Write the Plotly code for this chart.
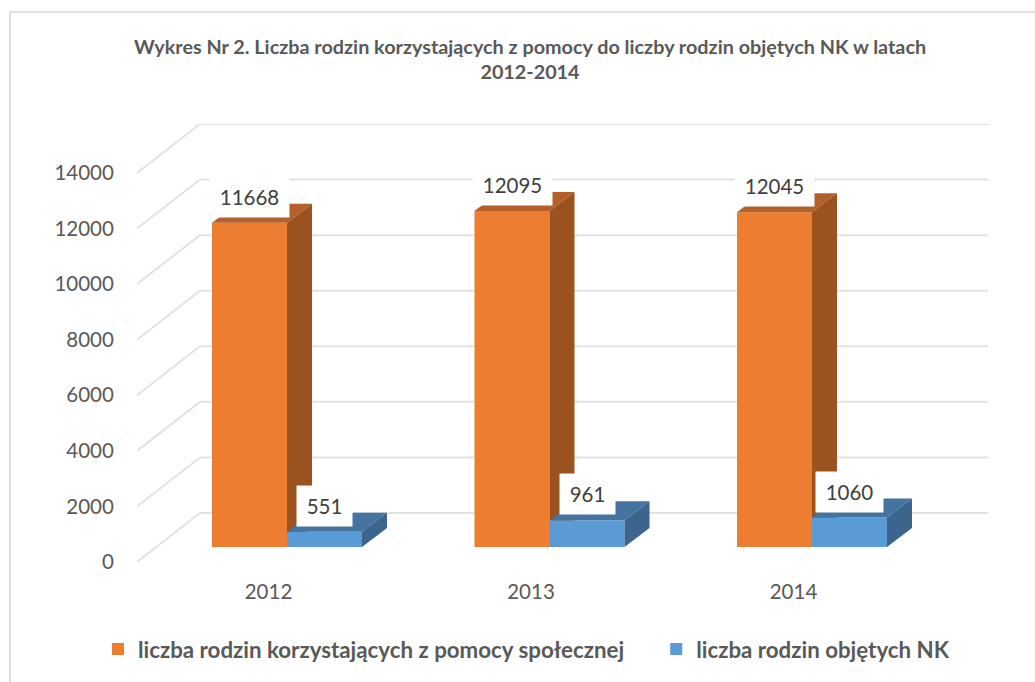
import plotly.graph_objects as go

# ---- data ----
years = ["2012", "2013", "2014"]
tick_values = [0, 2000, 4000, 6000, 8000, 10000, 12000, 14000]
pomoc = [11668, 12095, 12045]
nk = [551, 961, 1060]
name_pomoc = "liczba rodzin korzystających z pomocy społecznej"
name_nk = "liczba rodzin objętych NK"
title = ("Wykres Nr 2. Liczba rodzin korzystających z pomocy do liczby rodzin "
         "objętych NK w latach<br>2012-2014")

# ---- geometry of the 3D look (window is 1035x682) ----
W, H = 1035, 682
PX_X = 262.5            # pixels per category
PX_Y = 389 / 14000      # pixels per value unit
LEFT, RIGHT, TOP, BOTTOM = 137, 988, 124, 562
X0_PX, Y0_PX = 287, 547  # pixel of category 0 / value 0 on the front plane
BAR = 75 / PX_X
DX, DY = 25 / PX_X, 19 / PX_Y   # depth of a bar
WALL_X = (200 - X0_PX) / PX_X   # back wall, left end
WALL_DY = (Y0_PX - 513) / PX_Y  # back wall offset
FLOOR_DY = (BOTTOM - Y0_PX) / PX_Y  # offset of the axis plane below bar bases

x_range = [(LEFT - X0_PX) / PX_X, (RIGHT - X0_PX) / PX_X]
y_range = [-FLOOR_DY, (Y0_PX - TOP) / PX_Y]
idx = list(range(len(years)))

ORANGE, ORANGE_TOP, ORANGE_SIDE = "#ED7D31", "#B5602A", "#9A521E"
BLUE, BLUE_TOP, BLUE_SIDE = "#5B9BD5", "#44749F", "#3B658C"
GRID = "#E2E2E2"
TEXT = "#595959"
FONT = "Lato"

fig = go.Figure()


def add_series(values, name, left_offset, front, top, side, xa, ya):
    fig.add_trace(go.Bar(x=idx, y=values, name=name, width=BAR, offset=left_offset,
                         marker=dict(color=front, line=dict(width=0)),
                         xaxis=xa, yaxis=ya, hoverinfo="skip"))
    for i, v in zip(idx, values):
        l = i + left_offset
        r = l + BAR
        fig.add_trace(go.Scatter(
            x=[l, r, r + DX, l + DX, l], y=[v, v, v + DY, v + DY, v],
            mode="lines", fill="toself", fillcolor=top, line=dict(width=0),
            showlegend=False, hoverinfo="skip", xaxis=xa, yaxis=ya))
        fig.add_trace(go.Scatter(
            x=[r, r + DX, r + DX, r, r], y=[0, DY, v + DY, v, 0],
            mode="lines", fill="toself", fillcolor=side, line=dict(width=0),
            showlegend=False, hoverinfo="skip", xaxis=xa, yaxis=ya))


add_series(pomoc, name_pomoc + "\u00a0" * 5, -BAR, ORANGE, ORANGE_TOP, ORANGE_SIDE, "x", "y")
add_series(nk, name_nk, 0, BLUE, BLUE_TOP, BLUE_SIDE, "x2", "y2")

# gridlines: back wall and side wall, from the tick values
shapes = []
for t in tick_values:
    shapes.append(dict(type="line", xref="x", yref="y", layer="below",
                       x0=WALL_X, x1=x_range[1], y0=t + WALL_DY, y1=t + WALL_DY,
                       line=dict(color=GRID, width=2)))
    shapes.append(dict(type="line", xref="x", yref="y", layer="below",
                       x0=WALL_X, x1=x_range[0], y0=t + WALL_DY, y1=t - FLOOR_DY,
                       line=dict(color=GRID, width=2)))
# outer frame of the chart
shapes.append(dict(type="line", xref="paper", yref="paper", x0=10 / W, x1=10 / W,
                   y0=0, y1=1 - 12 / H, line=dict(color="#DEDEDE", width=2)))
shapes.append(dict(type="line", xref="paper", yref="paper", x0=10 / W, x1=1,
                   y0=1 - 12 / H, y1=1 - 12 / H, line=dict(color="#DEDEDE", width=2)))

# data labels: white boxes above the bars
annotations = []
for values, off in ((pomoc, -BAR / 2), (nk, BAR / 2)):
    for i, v in zip(idx, values):
        annotations.append(dict(
            x=i + off, y=v, xref="x", yref="y", yshift=26, text=str(v), showarrow=False,
            bgcolor="white", width=len(str(v)) * 12 + 17, height=38,
            font=dict(family=FONT, size=20.5, color="#404040")))

fig.update_layout(
    width=W, height=H, autosize=False,
    margin=dict(l=0, r=0, t=0, b=0),
    paper_bgcolor="white", plot_bgcolor="rgba(0,0,0,0)",
    barmode="overlay",
    shapes=shapes, annotations=annotations,
    title=dict(text=title, x=530 / W, xanchor="center", xref="container",
               y=1 - 53.5 / H, yanchor="top", yref="container",
               font=dict(family=FONT, size=19.8, color=TEXT, weight="bold")),
    xaxis=dict(domain=[LEFT / W, RIGHT / W], range=x_range, showgrid=False, zeroline=False,
               showline=False, automargin=False, tickmode="array",
               tickvals=[i - 18.5 / PX_X for i in idx], ticktext=years,
               ticks="outside", ticklen=11, tickcolor="rgba(0,0,0,0)",
               tickfont=dict(family=FONT, size=20.5, color=TEXT)),
    yaxis=dict(domain=[1 - BOTTOM / H, 1 - TOP / H], range=y_range, showgrid=False,
               zeroline=False, showline=False, automargin=False, tickmode="array",
               tickvals=[t - FLOOR_DY for t in tick_values],
               ticktext=[str(t) for t in tick_values],
               ticks="outside", ticklen=18, tickcolor="rgba(0,0,0,0)",
               tickfont=dict(family=FONT, size=20.5, color=TEXT)),
    xaxis2=dict(overlaying="x", matches="x", visible=False, automargin=False,
                domain=[LEFT / W, RIGHT / W]),
    yaxis2=dict(overlaying="y", matches="y", visible=False, automargin=False,
                domain=[1 - BOTTOM / H, 1 - TOP / H]),
    legend=dict(orientation="h", x=98 / W, xanchor="left", y=12 / H, yanchor="bottom",
                traceorder="normal",
                font=dict(family=FONT, size=22.3, color=TEXT, weight="bold"),
                bgcolor="rgba(0,0,0,0)"),
)

fig.write_html("out.html", config={"displayModeBar": False},
               post_script="document.body.style.margin='0';document.body.style.overflow='hidden';")
